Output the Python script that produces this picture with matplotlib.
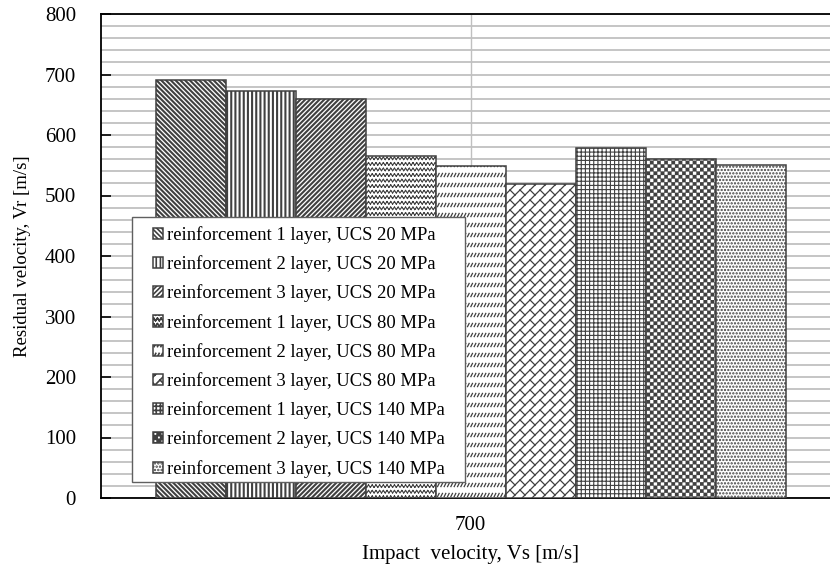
import warnings
import numpy as np
import matplotlib.pyplot as plt
from matplotlib import hatch as mhatch
from matplotlib.path import Path
from matplotlib.patches import Rectangle

warnings.filterwarnings('ignore')
plt.rcParams['font.family'] = ['Liberation Serif', 'DejaVu Serif']
plt.rcParams['hatch.linewidth'] = 1.2
plt.rcParams['hatch.color'] = 'black'

# data
impact_velocity = '700'
series_labels = [
    'reinforcement 1 layer, UCS 20 MPa',
    'reinforcement 2 layer, UCS 20 MPa',
    'reinforcement 3 layer, UCS 20 MPa',
    'reinforcement 1 layer, UCS 80 MPa',
    'reinforcement 2 layer, UCS 80 MPa',
    'reinforcement 3 layer, UCS 80 MPa',
    'reinforcement 1 layer, UCS 140 MPa',
    'reinforcement 2 layer, UCS 140 MPa',
    'reinforcement 3 layer, UCS 140 MPa',
]
residual_velocity = [691, 673, 660, 566, 549, 519, 579, 561, 551]

# Excel-like fill patterns (z, d, b, c are custom ones defined below)
hatches = ['\\' * 7, '||||', '/' * 7, 'z', 'd', 'b', '++++', 'c', '.....']
hatch_widths = [1.5, 1.5, 1.5, 0.8, 0.9, 0.9, 0.8, 0.2, 1.1]


# ---- a few extra hatch patterns -------------------------------------------
def _segments(vertices, codes, segs):
    v = np.asarray(segs, dtype=float).reshape(-1, 2)
    vertices[:] = v
    codes[0::2] = Path.MOVETO
    codes[1::2] = Path.LINETO


class ZigZagHatch(mhatch.HatchPatternBase):
    def __init__(self, hatch, density):
        self.rows = 18 * hatch.count('z')
        self.cols = 27 * hatch.count('z')
        self.num_vertices = self.rows * self.cols * 2 * 2

    def set_vertices_and_codes(self, vertices, codes):
        n, m = self.rows, self.cols
        amp = 0.22 / n
        xs = np.linspace(0, 1, 2 * m + 1)
        segs = []
        for j in range(n):
            y0 = (j + 0.5) / n
            ys = y0 + np.where(np.arange(2 * m + 1) % 2 == 0, -amp, amp)
            for k in range(2 * m):
                segs.append([(xs[k], ys[k]), (xs[k + 1], ys[k + 1])])
        _segments(vertices, codes, segs)


class DashHatch(mhatch.HatchPatternBase):
    def __init__(self, hatch, density):
        self.rows = 10 * hatch.count('d')
        self.cols = 30 * hatch.count('d')
        self.num_vertices = self.rows * self.cols * 2

    def set_vertices_and_codes(self, vertices, codes):
        n, m = self.rows, self.cols
        a = 0.008
        segs = []
        for j in range(n):
            y0 = (j + 0.5) / n
            for k in range(m):
                x0 = (k + 0.5) / m
                segs.append([(x0 - a, y0 - 2 * a), (x0 + a, y0 + 2 * a)])
        _segments(vertices, codes, segs)


class BrickHatch(mhatch.HatchPatternBase):
    def __init__(self, hatch, density):
        self.n = 10 * hatch.count('b')
        self.num_vertices = (2 * self.n * 2 + 2 * self.n * (self.n + 2) * 2
                             if self.n else 0)

    def set_vertices_and_codes(self, vertices, codes):
        n = self.n
        segs = []
        for i in range(-n, n):
            c = i / n
            segs.append([(-1, -1 + c), (2, 2 + c)])
        for i in range(-n, n):
            c = i / n
            for k in range(-1, n + 1):
                t = k / n
                segs.append([(t, t + c + 1 / n),
                             (t + 1 / (2 * n), t + c + 1 / (2 * n))])
        _segments(vertices, codes, segs)


class CheckerHatch(mhatch.HatchPatternBase):
    def __init__(self, hatch, density):
        self.k = 14 * hatch.count('c')
        self.num_vertices = 2 * self.k * self.k * 5

    def set_vertices_and_codes(self, vertices, codes):
        k = self.k
        s = 1 / (2 * k)
        idx = 0
        for r in range(2 * k):
            for c in range(2 * k):
                if (r + c) % 2 == 0:
                    x0, y0 = c * s, r * s
                    vertices[idx:idx + 5] = [(x0, y0), (x0 + s, y0),
                                             (x0 + s, y0 + s), (x0, y0 + s),
                                             (x0, y0)]
                    codes[idx:idx + 5] = [Path.MOVETO, Path.LINETO,
                                          Path.LINETO, Path.LINETO,
                                          Path.CLOSEPOLY]
                    idx += 5


mhatch._hatch_types.extend([ZigZagHatch, DashHatch, BrickHatch, CheckerHatch])
mhatch._validate_hatch_pattern = lambda h: None
# ---------------------------------------------------------------------------

fig = plt.figure(figsize=(8.3, 5.67), dpi=100)
# plot area runs past the right edge of the picture, as in the reference
ax = fig.add_axes([101 / 830, 1 - 498 / 567, 739 / 830, (498 - 14) / 567])

n = len(residual_velocity)
w = 70 / 739
x = (np.arange(n) - (n - 1) / 2) * w

for i in range(n):
    b = ax.bar(x[i], residual_velocity[i], width=w, color='white',
               edgecolor='#404040', linewidth=1.1, hatch=hatches[i],
               label=series_labels[i], zorder=3)
    for p in b.patches:
        if hasattr(p, 'set_hatch_linewidth'):
            p.set_hatch_linewidth(hatch_widths[i])

ax.set_xlim(-0.5, 0.5)
ax.set_ylim(0, 800)
ax.set_yticks(np.arange(0, 801, 100))
ax.set_yticks(np.arange(0, 801, 20), minor=True)
ax.yaxis.grid(True, which='both', color='#c0c0c0', linewidth=1.3, zorder=0)
ax.axvline(0, color='#c0c0c0', linewidth=1.0, zorder=0)
ax.set_axisbelow(True)

ax.set_xticks([0])
ax.set_xticklabels([impact_velocity])
ax.tick_params(axis='x', length=0, pad=13, labelsize=15)
ax.tick_params(axis='y', which='major', direction='in', length=7, width=1.2,
               pad=18, labelsize=15)
ax.tick_params(axis='y', which='minor', length=0)

ax.spines['right'].set_visible(False)
for s in ['left', 'top', 'bottom']:
    ax.spines[s].set_linewidth(1.3)
    ax.spines[s].set_color('black')

ax.set_xlabel('Impact  velocity, Vs [m/s]', fontsize=15, labelpad=7)
ax.set_ylabel('Residual velocity, Vr [m/s]', fontsize=13.5, labelpad=10)

# legend box drawn by hand so the padding matches the reference
fig.patches.append(Rectangle((132 / 830, 1 - 482 / 567), (465 - 132) / 830,
                             (482 - 217) / 567, transform=fig.transFigure,
                             facecolor='white', edgecolor='#606060',
                             linewidth=1.0, zorder=4))
leg = fig.legend(loc='upper left', bbox_to_anchor=(153 / 830, 1 - 226 / 567),
                 bbox_transform=fig.transFigure, fontsize=13.4, frameon=False,
                 handlelength=0.54, handleheight=0.54, handletextpad=0.22,
                 labelspacing=0.61, borderpad=0, borderaxespad=0)
leg.set_zorder(5)

fig.savefig('out.png', dpi=100)
